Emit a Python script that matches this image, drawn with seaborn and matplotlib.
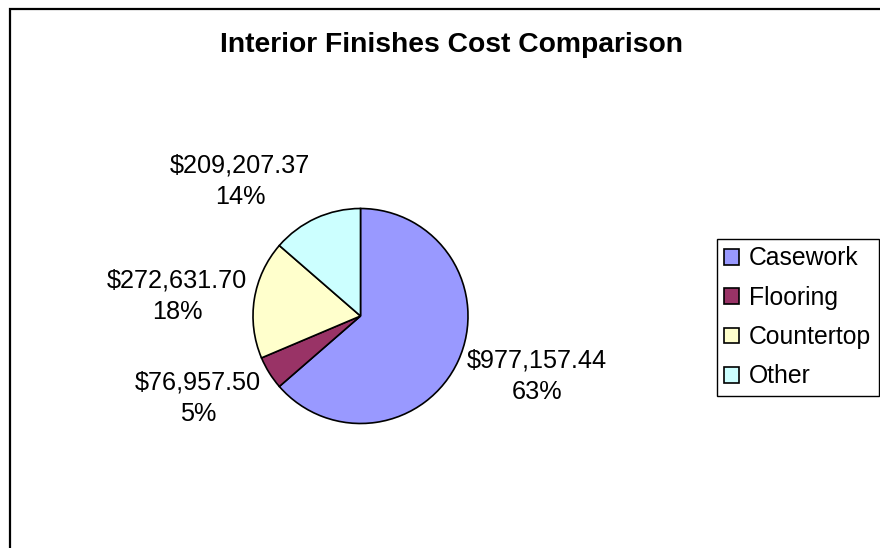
import matplotlib
matplotlib.use("Agg")
import matplotlib.pyplot as plt
from matplotlib.patches import Rectangle, Patch
import seaborn as sns

# Cost breakdown of interior finishes
categories = ["Casework", "Flooring", "Countertop", "Other"]
costs = [977157.44, 76957.50, 272631.70, 209207.37]
percent_labels = ["63%", "5%", "18%", "14%"]
colors = ["#9999FF", "#993366", "#FFFFCC", "#CCFFFF"]

sns.set_theme(style="white")
plt.rcParams["font.family"] = ["Liberation Sans", "DejaVu Sans"]
plt.rcParams["text.color"] = "black"

W, H = 880, 548
fig = plt.figure(figsize=(W / 100, H / 100), dpi=100)
fig.patch.set_facecolor("white")

# Chart-area border (runs off the right and bottom edges)
fig.patches.append(Rectangle((9.5 / W, -0.2), 1.5, 1.2 - 8.5 / H,
                             transform=fig.transFigure, fill=False,
                             edgecolor="black", linewidth=1.6))

# Pie axes: centre and radius in pixels
cx, cy, r = 360.5, 316.0, 107.5
ax = fig.add_axes([(cx - r) / W, (H - cy - r) / H, 2 * r / W, 2 * r / H])
wedges, _ = ax.pie(costs, colors=colors, startangle=90, counterclock=False,
                   radius=1.0,
                   wedgeprops=dict(edgecolor="black", linewidth=1.2))
ax.set_xlim(-1, 1)
ax.set_ylim(-1, 1)
ax.set_axis_off()

# Data label centres (pixels)
label_pos = [(537, 376), (198, 398), (177, 296), (240, 181)]
for (px, py), val, pct in zip(label_pos, costs, percent_labels):
    ax.text((px - cx) / r, (cy - py) / r, f"${val:,.2f}\n{pct}",
            ha="center", va="center", fontsize=18.2, linespacing=1.4,
            color="black", clip_on=False)

fig.text(451 / W, 1 - 45 / H, "Interior Finishes Cost Comparison",
         ha="center", va="center", fontsize=20.3, fontweight="bold",
         color="black")

handles = [Patch(facecolor=c, edgecolor="black", linewidth=1.2) for c in colors]
leg = fig.legend(handles, categories, loc="upper left",
                 bbox_to_anchor=(717 / W, 1 - 239 / H),
                 fontsize=17.8, frameon=True, fancybox=False,
                 handlelength=0.6, handleheight=0.6, handletextpad=0.4,
                 labelspacing=0.62, borderpad=0.3, borderaxespad=0,
                 edgecolor="black", framealpha=1)
leg.get_frame().set_linewidth(1.0)
for t in leg.get_texts():
    t.set_color("black")

fig.savefig("out.png", dpi=100, facecolor="white")
